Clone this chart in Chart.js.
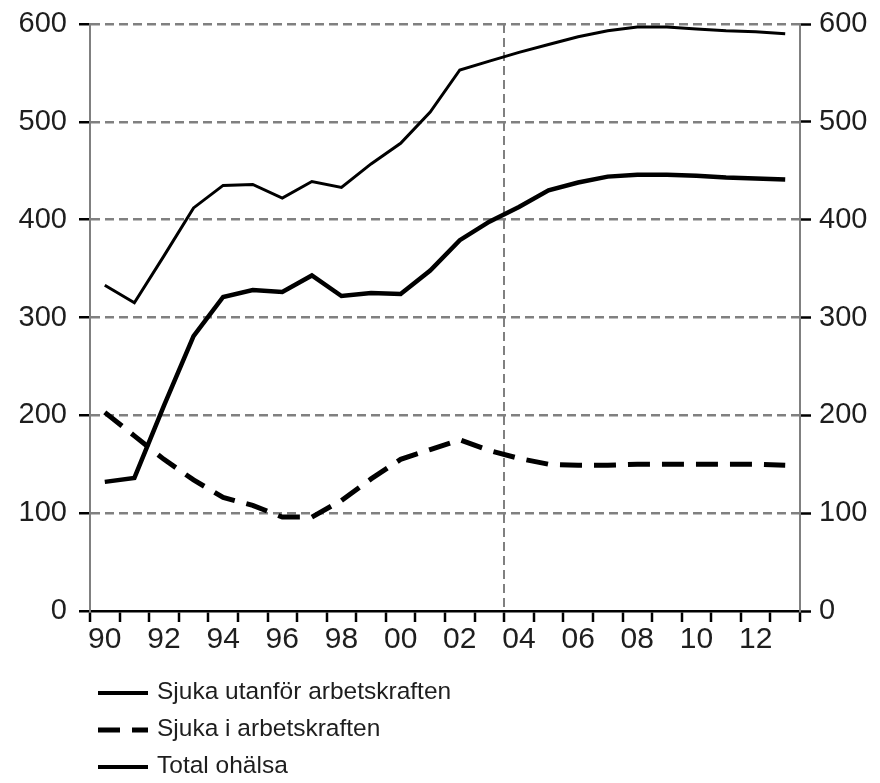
<!DOCTYPE html>
<html>
<head>
<meta charset="utf-8">
<script src="https://cdn.jsdelivr.net/npm/chart.js@4.4.1/dist/chart.umd.min.js"></script>
<style>
  html, body { margin: 0; padding: 0; background: #fff; }
  #wrap { width: 880px; height: 783px; position: relative; }
</style>
</head>
<body>
<div id="wrap"><canvas id="chart"></canvas></div>
<script>
var years = ['90','91','92','93','94','95','96','97','98','99','00','01',
             '02','03','04','05','06','07','08','09','10','11','12','13'];

var sjukaUtanfor = [132, 136, 210, 281, 321, 328, 326, 343, 322, 325, 324, 348,
                    379, 398, 413, 430, 438, 444, 446, 446, 445, 443, 442, 441];
var sjukaI = [203, 179, 155, 134, 116, 108, 96, 96, 113, 135, 155, 165,
              175, 164, 156, 150, 149, 149, 150, 150, 150, 150, 150, 149];
var totalOhalsa = [333, 315, 363, 412, 435, 436, 422, 439, 433, 457, 478, 510,
                   553, 562, 571, 579, 587, 593, 597, 597, 595, 593, 592, 590];

var seriesNames = ['Sjuka utanför arbetskraften', 'Sjuka i arbetskraften', 'Total ohälsa'];
var yTicks = [0, 100, 200, 300, 400, 500, 600];
var markerYear = '04';

var FONT = 'Liberation Sans, Arial, sans-serif';
var grey = '#808080';
var textCol = '#1e1e1e';

// legend drawn under the x axis, one row per series
var bottomLegend = {
  id: 'bottomLegend',
  afterDraw: function(chart){
    var ctx = chart.ctx;
    var sets = chart.data.datasets;
    ctx.save();
    for (var i = 0; i < sets.length; i++) {
      var y = 693 + i * 37;
      ctx.beginPath();
      ctx.lineWidth = sets[i].legendWidth;
      ctx.strokeStyle = '#000';
      ctx.setLineDash(sets[i].borderDash || []);
      ctx.moveTo(98, y);
      ctx.lineTo(148, y);
      ctx.stroke();
      ctx.setLineDash([]);
      ctx.fillStyle = textCol;
      ctx.font = '24.5px ' + FONT;
      ctx.textBaseline = 'middle';
      ctx.fillText(sets[i].label, 157, y - 1);
    }
    ctx.restore();
  }
};

// keep the plot box where the reference has it
function noPad(s){
  s.paddingTop = 0;
  s.paddingBottom = 0;
}

var ctx = document.getElementById('chart').getContext('2d');
var chart = new Chart(ctx, {
  type: 'line',
  data: {
    labels: years,
    datasets: [{
      label: seriesNames[0],
      data: sjukaUtanfor,
      borderColor: '#000',
      borderWidth: 4.5,
      legendWidth: 4,
      pointRadius: 0,
      tension: 0
    }, {
      label: seriesNames[1],
      data: sjukaI,
      borderColor: '#000',
      borderWidth: 5,
      legendWidth: 5,
      borderDash: [22, 12],
      pointRadius: 0,
      tension: 0
    }, {
      label: seriesNames[2],
      data: totalOhalsa,
      borderColor: '#000',
      borderWidth: 3,
      legendWidth: 4,
      pointRadius: 0,
      tension: 0
    }]
  },
  options: {
    responsive: true,
    maintainAspectRatio: false,
    animation: false,
    layout: { padding: { top: 24, bottom: 122, left: 0, right: 0 } },
    plugins: {
      legend: { display: false },
      tooltip: { enabled: false }
    },
    scales: {
      x: {
        offset: true,
        grid: {
          offset: true,
          drawOnChartArea: true,
          color: function(c){ return years[c.index] === markerYear ? grey : 'rgba(0,0,0,0)'; },
          lineWidth: 2,
          tickColor: '#000',
          tickWidth: 2.5,
          tickLength: 11,
          tickBorderDash: []
        },
        border: { display: true, color: '#000', width: 2.5, dash: [9, 5] },
        ticks: {
          autoSkip: false,
          maxRotation: 0,
          padding: 0,
          color: textCol,
          font: { family: FONT, size: 30 },
          callback: function(v, i){ return i % 2 === 0 ? years[i] : ''; }
        },
        afterFit: function(s){ s.height = 50; }
      },
      y: {
        position: 'left',
        min: 0,
        max: 600,
        afterBuildTicks: function(s){ s.ticks = yTicks.map(function(v){ return {value: v}; }); },
        grid: {
          color: function(c){ return c.tick && c.tick.value === 0 ? 'rgba(0,0,0,0)' : grey; },
          lineWidth: 2.5,
          tickColor: '#000',
          tickWidth: 2.5,
          tickLength: 11,
          tickBorderDash: []
        },
        border: { display: true, color: grey, width: 2, dash: [9, 5] },
        ticks: {
          padding: 12,
          color: textCol,
          font: { family: FONT, size: 29 }
        },
        afterFit: function(s){ s.width = 90; noPad(s); }
      },
      y2: {
        position: 'right',
        min: 0,
        max: 600,
        afterBuildTicks: function(s){ s.ticks = yTicks.map(function(v){ return {value: v}; }); },
        grid: {
          drawOnChartArea: false,
          tickColor: '#000',
          tickWidth: 2.5,
          tickLength: 11,
          tickBorderDash: []
        },
        border: { display: true, color: grey, width: 2 },
        ticks: {
          padding: 8,
          color: textCol,
          font: { family: FONT, size: 29 }
        },
        afterFit: function(s){ s.width = 80; noPad(s); }
      }
    }
  },
  plugins: [bottomLegend]
});
</script>
</body>
</html>
